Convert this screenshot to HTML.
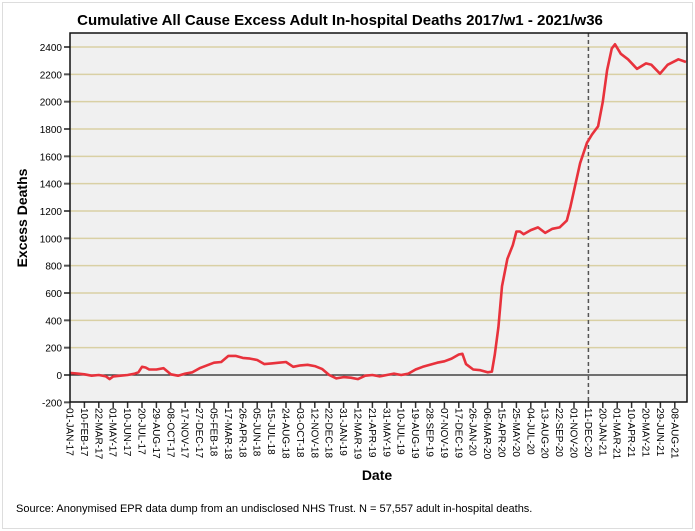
<!DOCTYPE html>
<html><head><meta charset="utf-8">
<style>
body{margin:0;background:#fff;}
svg{display:block;font-family:"Liberation Sans",Arial,sans-serif;}
</style></head>
<body>
<svg id="chart" width="695" height="531" viewBox="0 0 695 531">
<rect x="2.5" y="2.5" width="690" height="526" fill="#fff" stroke="#ddd"/>
<text x="340" y="25" text-anchor="middle" font-size="15" font-weight="bold">Cumulative All Cause Excess Adult In-hospital Deaths 2017/w1 - 2021/w36</text>
<rect x="70" y="33" width="617" height="369" fill="#f0f0f0"/>
<g id="grid"></g>
<g id="series"></g>
<g id="axes"></g>
<text transform="translate(27,218) rotate(-90)" text-anchor="middle" font-size="14" font-weight="bold">Excess Deaths</text>
<text x="377" y="480" text-anchor="middle" font-size="14" font-weight="bold">Date</text>
<text x="16" y="512" font-size="11">Source: Anonymised EPR data dump from an undisclosed NHS Trust. N = 57,557 adult in-hospital deaths.</text>
</svg>
<script>
const yTicks=[-200,0,200,400,600,800,1000,1200,1400,1600,1800,2000,2200,2400];
const xTickLabels=["01-JAN-17","10-FEB-17","22-MAR-17","01-MAY-17","10-JUN-17","20-JUL-17","29-AUG-17","08-OCT-17","17-NOV-17","27-DEC-17","05-FEB-18","17-MAR-18","26-APR-18","05-JUN-18","15-JUL-18","24-AUG-18","03-OCT-18","12-NOV-18","22-DEC-18","31-JAN-19","12-MAR-19","21-APR-19","31-MAY-19","10-JUL-19","19-AUG-19","28-SEP-19","07-NOV-19","17-DEC-19","26-JAN-20","06-MAR-20","15-APR-20","25-MAY-20","04-JUL-20","13-AUG-20","22-SEP-20","01-NOV-20","11-DEC-20","20-JAN-21","01-MAR-21","10-APR-21","20-MAY-21","29-JUN-21","08-AUG-21"];
const tickStepDays=40;
const markerDay=1440;
const days=[0,20,40,60,80,100,110,120,140,160,180,190,200,210,220,240,260,280,300,320,340,360,380,400,420,440,460,480,500,520,540,560,580,600,620,640,660,680,700,720,740,760,780,800,820,840,860,880,900,920,940,960,980,1000,1020,1040,1060,1080,1090,1100,1120,1140,1160,1172,1180,1190,1200,1215,1230,1240,1250,1260,1280,1300,1320,1340,1360,1380,1390,1417,1436,1450,1467,1480,1492,1505,1514,1530,1550,1575,1600,1615,1639,1660,1690,1711];
const values=[15,10,5,-5,0,-10,-30,-10,-5,0,10,20,60,55,40,40,50,5,-5,10,20,50,70,90,95,140,140,125,120,110,80,85,90,95,60,70,75,65,45,0,-25,-15,-20,-30,-5,0,-10,0,10,0,10,40,60,75,90,100,120,150,155,80,40,35,20,25,150,350,650,850,950,1050,1050,1030,1060,1080,1040,1070,1080,1130,1230,1550,1700,1760,1820,2000,2230,2390,2420,2350,2310,2240,2280,2270,2205,2270,2310,2290];

const NS="http://www.w3.org/2000/svg";
const L=70,R=687,T=33,B=402;
const x=d=>70+d*0.36;
const y=v=>375-v*(328/2400);
function mk(tag,attrs,parent){const e=document.createElementNS(NS,tag);for(const k in attrs)e.setAttribute(k,attrs[k]);parent.appendChild(e);return e;}
const grid=document.getElementById('grid'),axes=document.getElementById('axes'),series=document.getElementById('series');
yTicks.forEach(v=>{
  if(v>-200 && v!==0){const g=mk('line',{x1:L,x2:R,y1:y(v),y2:y(v),stroke:'#d9d0a4','stroke-width':1.5},grid);
  
  }
  const t=mk('line',{x1:L-6,x2:L,y1:y(v),y2:y(v),stroke:'#555','stroke-width':2},axes);
  
  
  const lb=mk('text',{x:L-8,y:y(v)+4,'text-anchor':'end','font-size':10},axes);
  lb.textContent=v;
  
  
});
const zl=mk('line',{x1:L,x2:R,y1:y(0),y2:y(0),stroke:'#222','stroke-width':1.2},grid);


const ml=mk('line',{x1:x(markerDay),x2:x(markerDay),y1:T,y2:B,stroke:'#555','stroke-width':1.5,'stroke-dasharray':'4,3'},grid);


let d='';days.forEach((dd,i)=>{d+=(i?'L':'M')+x(dd).toFixed(1)+','+y(values[i]).toFixed(1);});
const p=mk('path',{d:d,fill:'none',stroke:'#e8323c','stroke-width':2.6,'stroke-linejoin':'round'},series);


xTickLabels.forEach((s,i)=>{
  const xx=x(i*tickStepDays);
  const t=mk('line',{x1:xx,x2:xx,y1:B,y2:B+6,stroke:'#333','stroke-width':1.5},axes);
  
  
  const lb=mk('text',{transform:`translate(${xx-3.5},${B+6}) rotate(90)`,'font-size':10},axes);
  lb.textContent=s;
  
  
});
const fr=mk('rect',{x:L,y:T,width:R-L,height:B-T,fill:'none',stroke:'#111','stroke-width':1.5},axes);


</script>
</body></html>
